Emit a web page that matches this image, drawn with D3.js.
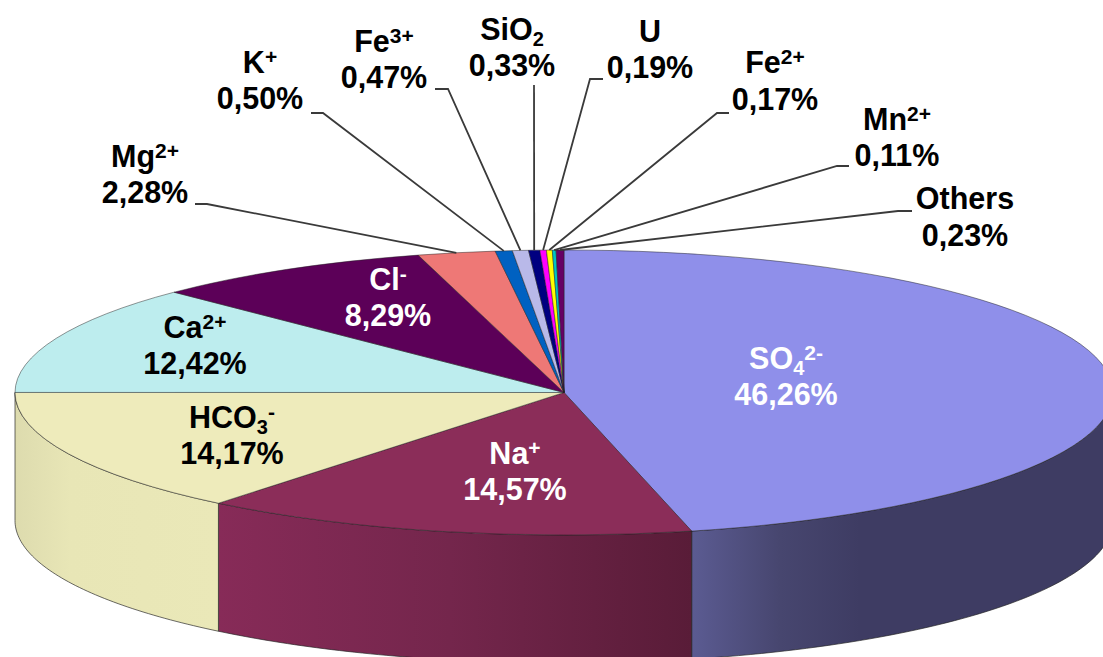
<!DOCTYPE html>
<html>
<head>
<meta charset="utf-8">
<script src="https://cdn.jsdelivr.net/npm/d3@7"></script>
<style>
  html, body { margin: 0; padding: 0; background: #fff; overflow: hidden; }
  svg { display: block; }
  text { font-family: "Liberation Sans", Arial, sans-serif; font-weight: 700; font-size: 30.5px; }
</style>
</head>
<body>
<div id="chart"></div>
<script>
// clockwise from 12 o'clock, same order as the original pie
const names = ["SO4", "Na", "HCO3", "Ca", "Cl", "Mg", "K", "Fe", "SiO2", "U", "Fe", "Mn", "Others"];
const values = [46.26, 14.57, 14.17, 12.42, 8.29, 2.28, 0.50, 0.47, 0.33, 0.19, 0.17, 0.11, 0.23];
const charges = ["2-", "+", "-", "2+", "-", "2+", "+", "3+", "", "", "2+", "2+", ""];
const colors = ["#8f8fea", "#8b2d59", "#eeebbb", "#bdedee", "#5c0058", "#ee7876", "#0061c1", "#b9b9e9", "#000080", "#ff00ff", "#ffff00", "#00c4c4", "#660066"];
const textColors = ["#fff", "#fff", "#000", "#000", "#fff", "#000", "#000", "#000", "#000", "#000", "#000", "#000", "#000"];

// label centre x, first baseline, second baseline
const labelPos = [
  [786, 369, 405], [515, 464, 500], [232, 428, 464], [195, 338, 374], [388, 290, 326],
  [145, 167, 203], [260, 73, 109], [384, 52, 88], [512, 40, 76], [650, 42, 78],
  [775, 73, 110], [897, 130, 166], [965, 209, 246]
];
// leader line points outside the pie, from the text towards the elbow
const leaderPos = [
  null, null, null, null, null,
  [[195, 204], [207, 204]], [[311, 113], [323, 113]], [[435, 89], [448, 89]],
  [[534, 85]], [[603, 79], [590, 79]], [[729, 113], [717, 113]],
  [[849, 166], [837, 166]], [[912, 211], [898, 211]]
];
// shading of the visible wall, [x, colour]
const wallShades = {
  0: [[692, "#5b5b92"], [780, "#47466f"], [860, "#3e3c63"], [1112, "#3e3c63"]],
  1: [[218, "#872b58"], [450, "#74264c"], [692, "#591c38"]],
  2: [[15, "#dddbae"], [70, "#e8e6b6"], [218, "#eae8b8"]]
};

const width = 1103;
const height = 657;
const cx = 564;
const cy = 392.5;
const rx = 549;
const ry = 142.5;
const depth = 128;

const svg = d3.select("#chart").append("svg")
  .attr("width", width)
  .attr("height", height)
  .attr("viewBox", `0 0 ${width} ${height}`);

const slices = d3.pie().sort(null).value((d) => d)(values);

const ex = (a) => cx + rx * Math.sin(a);
const ey = (a) => cy - ry * Math.cos(a);

// side wall, only the part of the rim that faces the viewer
const defs = svg.append("defs");
Object.entries(wallShades).forEach(([i, stops]) => {
  const x0 = stops[0][0];
  const x1 = stops[stops.length - 1][0];
  defs.append("linearGradient")
    .attr("id", `wall-${i}`)
    .attr("gradientUnits", "userSpaceOnUse")
    .attr("x1", x0).attr("x2", x1).attr("y1", 0).attr("y2", 0)
    .selectAll("stop")
    .data(stops)
    .join("stop")
    .attr("offset", (d) => (d[0] - x0) / (x1 - x0))
    .attr("stop-color", (d) => d[1]);
});

const wallLine = d3.line();
function wallPath(d) {
  const a0 = Math.max(d.startAngle, Math.PI / 2);
  const a1 = Math.min(d.endAngle, Math.PI * 1.5);
  const angles = d3.range(0, 61).map((k) => a0 + (a1 - a0) * k / 60);
  const top = angles.map((a) => [ex(a), ey(a)]);
  const bottom = angles.slice().reverse().map((a) => [ex(a), ey(a) + depth]);
  return wallLine(top.concat(bottom)) + "Z";
}

svg.append("g")
  .selectAll("path")
  .data(slices.filter((d) => d.startAngle < Math.PI * 1.5 && d.endAngle > Math.PI / 2))
  .join("path")
  .attr("d", wallPath)
  .attr("fill", (d) => `url(#wall-${d.index})`)
  .attr("stroke", "#222")
  .attr("stroke-opacity", 0.75)
  .attr("stroke-width", 0.9);

// top face, a flat d3 arc squashed to an ellipse
const arc = d3.arc().innerRadius(0).outerRadius(rx);
svg.append("g")
  .attr("transform", `translate(${cx},${cy}) scale(1,${ry / rx})`)
  .selectAll("path")
  .data(slices)
  .join("path")
  .attr("d", arc)
  .attr("fill", (d) => colors[d.index])
  .attr("stroke", "#222")
  .attr("stroke-opacity", 0.6)
  .attr("stroke-width", 0.8)
  .attr("vector-effect", "non-scaling-stroke");

// leader lines end on the rim at the middle of the slice
svg.append("g")
  .selectAll("path")
  .data(slices.filter((d) => leaderPos[d.index]))
  .join("path")
  .attr("d", (d) => {
    const mid = (d.startAngle + d.endAngle) / 2;
    return d3.line()(leaderPos[d.index].concat([[ex(mid), ey(mid)]]));
  })
  .attr("fill", "none")
  .attr("stroke", "#3a3a3a")
  .attr("stroke-width", 1.8);

const labels = svg.append("g")
  .selectAll("g")
  .data(slices)
  .join("g")
  .attr("fill", (d) => textColors[d.index]);

const nameText = labels.append("text")
  .attr("text-anchor", "middle")
  .attr("x", (d) => labelPos[d.index][0])
  .attr("y", (d) => labelPos[d.index][1]);

nameText.each(function (d) {
  const t = d3.select(this);
  const name = names[d.index];
  const hasSub = /\d$/.test(name);
  t.append("tspan").text(hasSub ? name.slice(0, -1) : name);
  if (hasSub) {
    t.append("tspan").attr("font-size", 20).attr("dy", 6).text(name.slice(-1));
  }
  if (charges[d.index]) {
    t.append("tspan").attr("font-size", 21).attr("dy", hasSub ? -15 : -9).text(charges[d.index]);
  }
});

labels.append("text")
  .attr("text-anchor", "middle")
  .attr("x", (d) => labelPos[d.index][0])
  .attr("y", (d) => labelPos[d.index][2])
  .text((d) => `${values[d.index].toFixed(2).replace(".", ",")}%`);
</script>
</body>
</html>
